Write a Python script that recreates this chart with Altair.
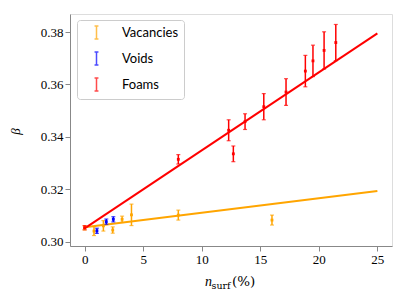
import altair as alt
import pandas as pd

# ---- data ----
vac_x = [0.0, 0.8, 1.6, 2.4, 3.2, 4.0, 8.0, 16.0]
vac_y = [0.3052, 0.3040, 0.3060, 0.3044, 0.3085, 0.3102, 0.3101, 0.3082]
vac_e = [0.0008, 0.0017, 0.0020, 0.0012, 0.0012, 0.0041, 0.0019, 0.0019]

void_x = [1.05, 1.85, 2.45]
void_y = [0.3041, 0.3076, 0.3085]
void_e = [0.0010, 0.0010, 0.0010]

foam_x = [0.0, 8.0, 12.3, 12.7, 13.7, 15.3, 17.2, 18.85, 19.5, 20.45, 21.45]
foam_y = [0.3053, 0.3314, 0.3425, 0.3335, 0.3458, 0.3515, 0.3571, 0.3651, 0.3690, 0.3730, 0.3760]
foam_e = [0.0008, 0.0018, 0.0040, 0.0030, 0.0030, 0.0050, 0.0051, 0.0060, 0.0060, 0.0071, 0.0069]

fit_x = [0.0, 25.0]
fit_vac_y = [0.3055, 0.3193]
fit_foam_y = [0.3050, 0.3795]

series_names = ["Vacancies", "Voids", "Foams"]
series_colors = ["#FFA500", "#0000FF", "#FF0000"]
x_ticks = [0, 5, 10, 15, 20, 25]
y_ticks = [0.30, 0.32, 0.34, 0.36, 0.38]

rows = []
for name, xs, ys, es in [("Vacancies", vac_x, vac_y, vac_e),
                         ("Voids", void_x, void_y, void_e),
                         ("Foams", foam_x, foam_y, foam_e)]:
    for x, y, e in zip(xs, ys, es):
        rows.append({"series": name, "x": x, "y": y, "lo": y - e, "hi": y + e})
pts = pd.DataFrame(rows)

fit_rows = []
for name, ys in [("Vacancies", fit_vac_y), ("Foams", fit_foam_y)]:
    for x, y in zip(fit_x, ys):
        fit_rows.append({"series": name, "x": x, "y": y})
fits = pd.DataFrame(fit_rows)

W, H = 322, 232
SERIF = "Liberation Serif"

xscale = alt.Scale(domain=[-1.25, 26.25], nice=False, zero=False)
yscale = alt.Scale(domain=[0.2983, 0.3869], nice=False, zero=False)
cscale = alt.Scale(domain=series_names, range=series_colors)

xaxis = alt.Axis(values=x_ticks, format="d", title="", grid=False,
                 labelFont=SERIF, labelFontSize=13, labelColor="black")
yaxis = alt.Axis(values=y_ticks, format=".2f", title="β", grid=False,
                 labelFont=SERIF, labelFontSize=13, labelColor="black",
                 titleFont=SERIF, titleFontStyle="italic", titleFontSize=13,
                 titleFontWeight="normal", titleX=-55, titleY=117,
                 titleAngle=-90, titleAlign="center", titleBaseline="middle")

legend = alt.Legend(
    title="", orient="none", legendX=7, legendY=6,
    symbolType="M0,-1L0,1M-0.3,-1L0.3,-1M-0.3,1L0.3,1",
    symbolSize=169, symbolStrokeWidth=1.5, symbolFillColor="transparent",
    symbolOffset=7, labelOffset=18, rowPadding=7, padding=5,
    labelFont="Lato", labelFontSize=13, labelColor="black",
    strokeColor="#cccccc", fillColor="white", cornerRadius=3,
)

color = alt.Color("series:N", scale=cscale, legend=legend, sort=series_names)

lines = alt.Chart(fits).mark_line(strokeWidth=2).encode(
    x=alt.X("x:Q", scale=xscale, axis=xaxis),
    y=alt.Y("y:Q", scale=yscale, axis=yaxis),
    color=color,
    detail="series:N",
)

base = alt.Chart(pts)
rules = base.mark_rule(strokeWidth=1.5).encode(x="x:Q", y="lo:Q", y2="hi:Q", color=color)
caps_lo = base.mark_tick(orient="horizontal", size=4, thickness=1.2).encode(
    x="x:Q", y="lo:Q", color=color)
caps_hi = base.mark_tick(orient="horizontal", size=4, thickness=1.2).encode(
    x="x:Q", y="hi:Q", color=color)
dots = base.mark_square(size=8, opacity=1).encode(x="x:Q", y="y:Q", color=color)

t_n = alt.Chart(pd.DataFrame({"t": ["n"]})).mark_text(
    font=SERIF, fontStyle="italic", fontSize=14, align="left", baseline="alphabetic", color="black"
).encode(x=alt.value(135), y=alt.value(272), text="t:N")
t_sub = alt.Chart(pd.DataFrame({"t": ["surf"]})).mark_text(
    font="DejaVu Serif", fontSize=9.5, align="left", baseline="alphabetic", color="black"
).encode(x=alt.value(141.5), y=alt.value(275), text="t:N")
t_pct = alt.Chart(pd.DataFrame({"t": ["(%)"]})).mark_text(
    font="DejaVu Serif", fontSize=13.5, align="left", baseline="alphabetic", color="black"
).encode(x=alt.value(162), y=alt.value(272), text="t:N")

chart = alt.layer(lines, rules, caps_lo, caps_hi, dots, t_n, t_sub, t_pct).properties(
    width=W, height=H,
    autosize=alt.AutoSizeParams(type="none"),
    padding={"left": 62, "top": 6, "right": 5, "bottom": 48},
).configure_view(stroke="black", strokeWidth=1).configure_axis(
    domainColor="black", tickColor="black", tickSize=3.5, tickWidth=1,
    labelFont=SERIF, labelFontSize=13, labelColor="black", labelPadding=3,
).configure(background="white")

chart.save("out.html", embed_options={"renderer": "svg", "actions": False})
